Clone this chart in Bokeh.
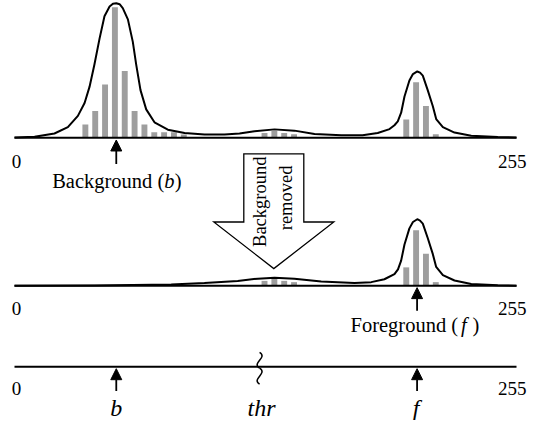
import math
from bokeh.plotting import figure
from bokeh.models import Range1d, Arrow, NormalHead
from bokeh.embed import file_html
from bokeh.resources import INLINE
from bokeh.core.properties import value

# ---------------- data (gray levels 0..255, heights in counts) ----------------
levels_bg = [36, 41, 46, 51, 56, 61, 66, 71, 76, 81, 86]
counts_bg = [13.7, 27.7, 55.3, 135.3, 69.3, 27.7, 13.7, 5.7, 5.7, 5.7, 3.3]
levels_mid = [127, 132, 137, 142]
counts_mid = [5, 7, 5, 3.7]
levels_fg = [199, 204, 209, 214]
counts_fg = [19, 57.5, 33, 3.7]

# smoothed histogram (full image)
curve_full_x = [0, 10.2, 20.3, 27.1, 32.2, 35.6, 38.1, 40.6, 43.2, 45.7, 48.3, 50.0, 51.7,
                53.4, 55.0, 57.6, 60.1, 61.8, 64.0, 66.9, 71.1, 77.9, 86.4, 96.5, 106.7,
                114.3, 121.9, 132.1, 142.2, 152.4, 166.0, 176.8, 184.5, 190.5, 193.0,
                194.7, 196.4, 198.1, 200.6, 202.4, 204.6, 206.0, 207.4, 209.9, 212.5,
                214.2, 217.6, 223.5, 232.0, 245.5, 255]
curve_full_y = [0.3, 1.0, 4.4, 11, 22.7, 36, 52.7, 76, 102.7, 126, 136, 138.8, 139.4,
                138.4, 134.4, 122.7, 99.4, 76, 49.4, 29.4, 16, 8.4, 5, 3.4, 3.4,
                4.5, 6.7, 8.7, 7.4, 4, 2.5, 2.5, 5, 9, 13,
                17, 26, 42.7, 59.4, 66, 68.7, 67.5, 64.4, 49.4, 32.7,
                19.4, 11, 5.4, 2, 0.7, 0.3]

# smoothed histogram after background removal
curve_rem_x = [0, 40.6, 79.6, 96.5, 113.4, 123.6, 132.1, 142.2, 155.8, 172.7, 181.2,
               187.9, 193.0, 194.8, 196.4, 198.1, 200.6, 202.4, 204.6, 206.0, 207.4,
               209.9, 212.5, 214.2, 217.6, 223.5, 232.0, 245.5, 255]
curve_rem_y = [0, 0.3, 1.3, 2.7, 5, 7.3, 8.3, 7.3, 4.3, 2.7, 3.7,
               6.7, 12, 17, 26, 42.7, 59.4, 66, 68.9, 67.5, 64.4,
               49.4, 32.7, 19.4, 11, 5.4, 1.8, 0.4, 0]

b_level = 51.7
f_level = 204.5
thr_level = 124.5
axis_min, axis_max = 0, 255
tick_labels = ["0", "255"]

# ---------------- layout helpers ----------------
PX = 255 / 502.0          # gray levels per reference pixel


def Y(r):                 # reference pixel row -> data y (upwards)
    return 436 - r


BASE_TOP = Y(142.7)
BASE_MID = Y(296)
BASE_BOT = Y(380)

SERIF = value("Liberation Serif")
GRAY = "#9e9e9e"

p = figure(width=527, height=420, x_range=Range1d(-14 * PX, 513 * PX),
           y_range=Range1d(0.32, 435.55), toolbar_location=None,
           output_backend="svg", x_axis_location=None, y_axis_location=None,
           min_border=0, outline_line_color=None, background_fill_color="white")
p.grid.visible = False

# bars
p.vbar(x=levels_bg + levels_mid + levels_fg, width=3.0, bottom=BASE_TOP,
       top=[BASE_TOP + c for c in counts_bg + counts_mid + counts_fg],
       fill_color=GRAY, line_color=None)
p.vbar(x=levels_mid + levels_fg, width=3.0, bottom=BASE_MID,
       top=[BASE_MID + c for c in counts_mid + counts_fg],
       fill_color=GRAY, line_color=None)

# curves
p.line(curve_full_x, [BASE_TOP + v for v in curve_full_y], line_color="black",
       line_width=2, line_join="round")
p.line(curve_rem_x, [BASE_MID + v for v in curve_rem_y], line_color="black",
       line_width=2, line_join="round")

# axes lines
for base in (BASE_TOP, BASE_MID, BASE_BOT):
    p.segment(x0=[axis_min], x1=[axis_max], y0=[base], y1=[base],
              line_color="black", line_width=2)

# tick labels
for lab_row in (167, 319.5, 403):
    p.text(x=[axis_min], y=[Y(lab_row)], text=[tick_labels[0]], x_offset=2,
           text_align="center", text_baseline="alphabetic", text_font=SERIF,
           text_font_size="19px", text_color="black")
    p.text(x=[axis_max], y=[Y(lab_row)], text=[tick_labels[1]], x_offset=10,
           text_align="right", text_baseline="alphabetic", text_font=SERIF,
           text_font_size="19px", text_color="black")


def arrow_up(x, row_tail, row_tip):
    p.add_layout(Arrow(end=NormalHead(size=11, fill_color="black",
                                      line_color="black", line_width=1),
                       x_start=x, y_start=Y(row_tail), x_end=x, y_end=Y(row_tip),
                       line_color="black", line_width=1.8))


arrow_up(b_level, 170, 145)
arrow_up(f_level, 322, 298)
arrow_up(b_level, 405, 382)
arrow_up(f_level, 405, 382)


def txt(x, row, s, xo=0, align="center", italic=False, size="20.5px"):
    p.text(x=[x], y=[Y(row)], text=[s], x_offset=xo, text_align=align,
           text_baseline="alphabetic", text_font=SERIF, text_font_size=size,
           text_font_style="italic" if italic else "normal", text_color="black")


# Background (b)
txt(b_level, 187, "Background (", xo=48, align="right")
txt(b_level, 187, "b", xo=48, align="left", italic=True)
txt(b_level, 187, ")", xo=58.5, align="left")

# Foreground (f)
txt(f_level, 337, "Foreground (", xo=41, align="right")
txt(f_level, 337, "f", xo=44, align="left", italic=True)
txt(f_level, 337, ")", xo=55.5, align="left")

# bottom labels
txt(b_level, 423, "b", italic=True, size="24px")
txt(thr_level, 423, "thr", xo=2, italic=True, size="24px")
txt(f_level, 423, "f", xo=-1, italic=True, size="24px")

# wavy threshold mark
a = 8.6 * PX
p.bezier(x0=[thr_level, thr_level], y0=[Y(365), Y(381.5)],
         x1=[thr_level, thr_level], y1=[Y(381.5), Y(398)],
         cx0=[thr_level + a, thr_level + a], cy0=[Y(370.5), Y(387)],
         cx1=[thr_level - a, thr_level - a], cy1=[Y(376), Y(392.5)],
         line_color="black", line_width=1.5)

# hollow "Background removed" arrow
cx = (279.3 - 20) * PX
hs, hw = 30 * PX, 60 * PX
p.patch(x=[cx - hs, cx + hs, cx + hs, cx + hw, cx, cx - hw, cx - hs],
        y=[Y(159.3), Y(159.3), Y(230), Y(230), Y(278.3), Y(230), Y(230)],
        fill_color="white", line_color="black", line_width=1.3, line_join="miter")

p.text(x=[(265.7 - 20) * PX], y=[Y(209)], text=["Background"], angle=math.pi / 2,
       text_align="center", text_baseline="middle", text_font=SERIF,
       text_font_size="18.5px", text_color="black")
p.text(x=[(291.7 - 20) * PX], y=[Y(205)], text=["removed"], angle=math.pi / 2,
       text_align="center", text_baseline="middle", text_font=SERIF,
       text_font_size="18.5px", text_color="black")

open("out.html", "w").write(file_html(p, INLINE))
